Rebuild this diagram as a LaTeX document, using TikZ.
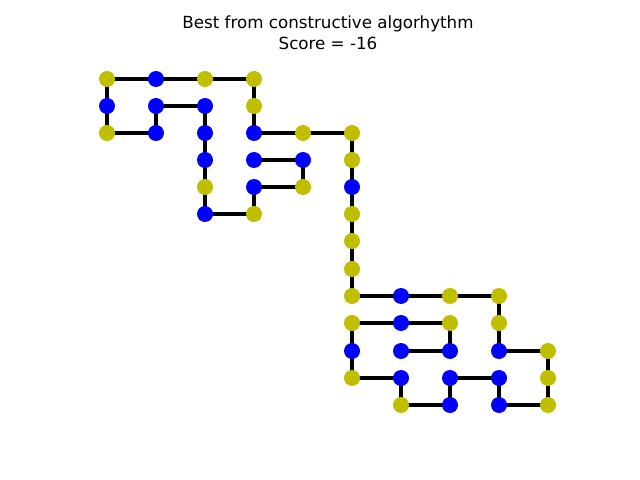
\documentclass[tikz,border=0pt]{standalone}
\usepackage{fontspec}
\setmainfont{DejaVu Sans}
\definecolor{hpY}{rgb}{0.75,0.75,0}
\definecolor{hpB}{rgb}{0,0,1}
\begin{document}
\begin{tikzpicture}[x=1bp,y=-1bp,
  res/.style={circle,inner sep=0pt,minimum size=16bp},
  hres/.style={res,fill=hpY},
  pres/.style={res,fill=hpB},
  bond/.style={line width=3.3bp,black}]
\useasboundingbox (0,0) rectangle (640,480);
\node[font=\fontsize{16.7bp}{20.5bp}\selectfont,align=center] (title) at (328,33)
  {Best from constructive algorhythm\\Score = -16};
% residues along the chain, in order
\foreach \i/\x/\y/\s in {
  1/254/160/p, 2/303/160/p, 3/303/187/h, 4/254/187/p, 5/254/214/h,
  6/205/214/p, 7/205/187/h, 8/205/160/p, 9/205/133/p, 10/205/106/p,
  11/156/106/p, 12/156/133/p, 13/107/133/h, 14/107/106/p, 15/107/79/h,
  16/156/79/p, 17/205/79/h, 18/254/79/h, 19/254/106/h, 20/254/133/p,
  21/303/133/h, 22/352/133/h, 23/352/160/h, 24/352/187/p, 25/352/214/h,
  26/352/241/h, 27/352/269/h, 28/352/296/h, 29/401/296/p, 30/450/296/h,
  31/499/296/h, 32/499/323/h, 33/499/351/p, 34/548/351/h, 35/548/378/h,
  36/548/405/h, 37/499/405/p, 38/499/378/p, 39/450/378/p, 40/450/405/p,
  41/401/405/h, 42/401/378/p, 43/352/378/h, 44/352/351/p, 45/352/323/h,
  46/401/323/p, 47/450/323/h, 48/450/351/p, 49/401/351/p}
  \coordinate (c\i) at (\x,\y);
% backbone bonds
\foreach \i [evaluate=\i as \j using int(\i+1)] in {1,...,48}
  \draw[bond] (c\i) -- (c\j);
% residue markers
\foreach \i/\s in {1/p,2/p,3/h,4/p,5/h,6/p,7/h,8/p,9/p,10/p,11/p,12/p,13/h,
  14/p,15/h,16/p,17/h,18/h,19/h,20/p,21/h,22/h,23/h,24/p,25/h,26/h,27/h,
  28/h,29/p,30/h,31/h,32/h,33/p,34/h,35/h,36/h,37/p,38/p,39/p,40/p,41/h,
  42/p,43/h,44/p,45/h,46/p,47/h,48/p,49/p}
  \node[\s res] (r\i) at (c\i) {};
\end{tikzpicture}
\end{document}
